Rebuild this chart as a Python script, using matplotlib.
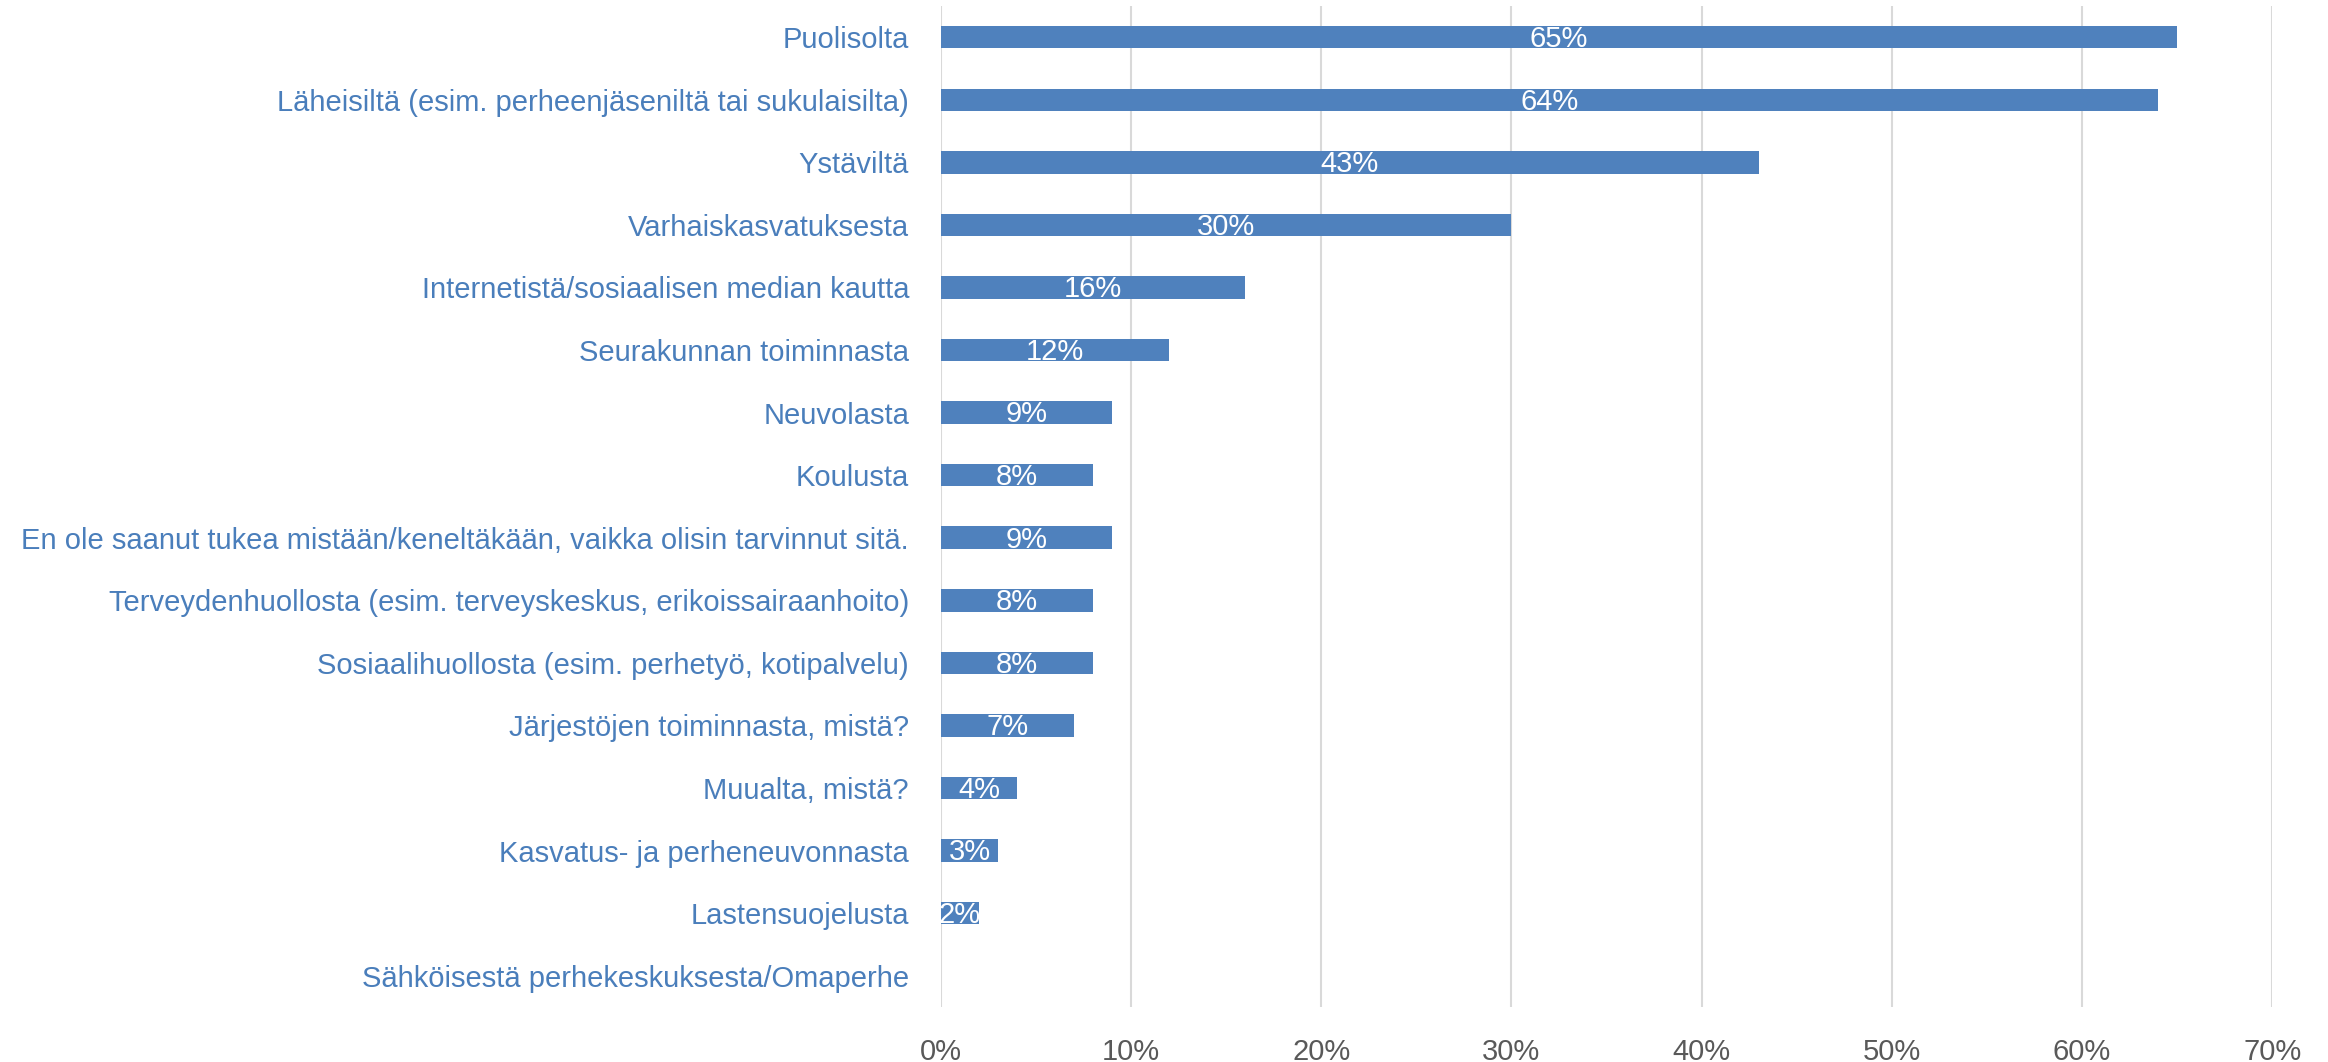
import numpy as np
import matplotlib
matplotlib.use("Agg")
import matplotlib.pyplot as plt
from matplotlib.ticker import PercentFormatter

plt.rcParams["font.family"] = ["Liberation Sans", "DejaVu Sans"]

categories = [
    "Puolisolta",
    "Läheisiltä (esim. perheenjäseniltä tai sukulaisilta)",
    "Ystäviltä",
    "Varhaiskasvatuksesta",
    "Internetistä/sosiaalisen median kautta",
    "Seurakunnan toiminnasta",
    "Neuvolasta",
    "Koulusta",
    "En ole saanut tukea mistään/keneltäkään, vaikka olisin tarvinnut sitä.",
    "Terveydenhuollosta (esim. terveyskeskus, erikoissairaanhoito)",
    "Sosiaalihuollosta (esim. perhetyö, kotipalvelu)",
    "Järjestöjen toiminnasta, mistä?",
    "Muualta, mistä?",
    "Kasvatus- ja perheneuvonnasta",
    "Lastensuojelusta",
    "Sähköisestä perhekeskuksesta/Omaperhe",
]
values = [65, 64, 43, 30, 16, 12, 9, 8, 9, 8, 8, 7, 4, 3, 2, 0]
x_ticks = [0, 10, 20, 30, 40, 50, 60, 70]

bar_color = "#4F81BD"
label_color = "#4A7EBB"
tick_color = "#595959"
grid_color = "#D9D9D9"

fig = plt.figure(figsize=(23.28, 10.62), dpi=100)
ax = fig.add_axes([0.4042, 0.0518, 0.9760 - 0.4042, 0.9944 - 0.0518])

y = np.arange(len(categories))
bars = ax.barh(y, values, height=0.36, color=bar_color, zorder=3)

# labels centred in the bar, clipped to the bar like the original
for bar, v in zip(bars, values):
    if v == 0:
        continue
    t = ax.text(bar.get_x() + bar.get_width() / 2, bar.get_y() + bar.get_height() / 2 + 0.03,
                f"{v}%", ha="center", va="center", color="white", fontsize=21, zorder=4)
    t.set_clip_path(bar)

ax.set_xlim(0, 70)
ax.set_ylim(len(categories) - 0.5, -0.5)
ax.set_xticks(x_ticks)
ax.xaxis.set_major_formatter(PercentFormatter(decimals=0))
ax.set_yticks(y)
ax.set_yticklabels(categories)

ax.grid(axis="x", color=grid_color, linewidth=1.5, zorder=0)
ax.tick_params(axis="x", length=0, pad=22, labelsize=21, labelcolor=tick_color)
ax.tick_params(axis="y", length=0, pad=23, labelsize=21, labelcolor=label_color)
for s in ax.spines.values():
    s.set_visible(False)

fig.savefig("out.png", dpi=100)
